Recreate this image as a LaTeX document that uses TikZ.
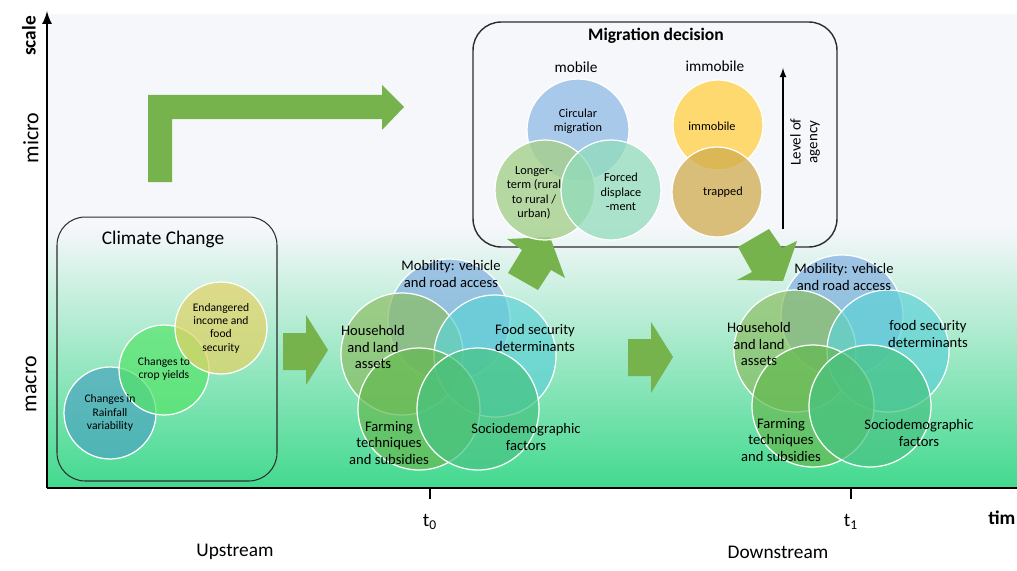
\documentclass[tikz,border=0pt]{standalone}
\usepackage{fontspec}
\setmainfont{Carlito}
\usepackage{tikz}

\definecolor{bglight}{RGB}{246,247,251}
\definecolor{bgmid}{RGB}{158,231,195}
\definecolor{bggreen}{RGB}{66,217,142}
\definecolor{arrowgreen}{RGB}{118,179,76}
\definecolor{boxline}{RGB}{45,45,45}
\definecolor{rainblue}{RGB}{75,165,190}
\definecolor{cropgreen}{RGB}{85,228,105}
\definecolor{incomeyellow}{RGB}{228,210,100}
\definecolor{mobblue}{RGB}{130,175,225}
\definecolor{assetgreen}{RGB}{140,190,100}
\definecolor{foodteal}{RGB}{95,210,215}
\definecolor{farmgreen}{RGB}{100,185,80}
\definecolor{sociogreen}{RGB}{70,195,130}
\definecolor{circblue}{RGB}{160,196,232}
\definecolor{longgreen}{RGB}{165,207,140}
\definecolor{forcedteal}{RGB}{145,220,188}
\definecolor{immyellow}{RGB}{255,216,105}
\definecolor{trapgold}{RGB}{208,172,78}

\begin{document}
\begin{tikzpicture}[x=0.02cm, y=-0.02cm,
    bubble/.style={circle, draw=white, line width=0.7pt, fill opacity=0.7, inner sep=0pt, minimum size=#1},
    bigtext/.style={font=\fontsize{8.3}{9.6}\selectfont, align=center, inner sep=0pt},
    smalltext/.style={font=\fontsize{6.6}{7.6}\selectfont, align=center, inner sep=0pt},
    axislabel/.style={font=\fontsize{11}{13}\selectfont, inner sep=0pt},
    frame/.style={draw=boxline, line width=0.6pt, rounded corners=16pt},
    blockarrow/.style={fill=arrowgreen}]

    \useasboundingbox (0,0) rectangle (1017,571);

    % Background
    \fill[bglight] (47,14) rectangle (1017,488);
    \shade[top color=bglight, middle color=bgmid, bottom color=bggreen] (47,226) rectangle (1017,488);

    % Axes
    \coordinate (origin) at (47,488);
    \coordinate (scaletop) at (47,11);
    \coordinate (timeend) at (1017,488);
    \draw[line width=1.5pt, -latex] (origin) -- (scaletop);
    \draw[line width=1.5pt] (origin) -- (timeend);
    \draw[line width=1.5pt] (430,488) -- (430,499);
    \draw[line width=1.5pt] (851,488) -- (851,499);

    \node[rotate=90, font=\bfseries\fontsize{11}{13}\selectfont] (scale) at (29,36) {scale};
    \node[rotate=90, font=\fontsize{12.5}{14}\selectfont] (micro) at (31,138) {micro};
    \node[rotate=90, font=\fontsize{12.5}{14}\selectfont] (macro) at (31,384) {macro};
    \node[axislabel] (t0) at (430,522) {t\textsubscript{0}};
    \node[axislabel] (t1) at (851,522) {t\textsubscript{1}};
    \node[axislabel, font=\bfseries\fontsize{11}{13}\selectfont, anchor=west] (time) at (988,518) {tim};
    \node[axislabel] (upstream) at (235,552) {Upstream};
    \node[axislabel] (downstream) at (778,552) {Downstream};

    % Climate Change
    \node[frame, minimum width=4.4cm, minimum height=5.28cm] (Climate) at (167,349) {};
    \node[font=\fontsize{11}{12}\selectfont] (Climate title) at (163,239) {Climate Change};
    \node[bubble=1.84cm, fill=rainblue] (Rainfall) at (110,413) {};
    \node[bubble=1.80cm, fill=cropgreen] (Crop) at (164,370) {};
    \node[bubble=1.84cm, fill=incomeyellow] (Income) at (221,328) {};
    \node[smalltext] (Rainfall text) at (110,413) {Changes in\\Rainfall\\variability};
    \node[smalltext] (Crop text) at (164,369) {Changes to\\crop yields};
    \node[smalltext] (Income text) at (221,328) {Endangered\\income and\\food\\security};

    % Determinants at t0
    \node[bubble=2.44cm, fill=mobblue] (Mobility0) at (449,320) {};
    \node[bubble=2.44cm, fill=assetgreen] (Household0) at (402,354) {};
    \node[bubble=2.44cm, fill=foodteal] (Food0) at (495,356) {};
    \node[bubble=2.44cm, fill=farmgreen] (Farming0) at (419,409) {};
    \node[bubble=2.44cm, fill=sociogreen] (Socio0) at (478,409) {};
    \node[bigtext] (Mobility0 text) at (451,274) {Mobility: vehicle\\and road access};
    \node[bigtext] (Household0 text) at (373,347) {Household\\and land\\assets};
    \node[bigtext] (Food0 text) at (535,338) {Food security\\determinants};
    \node[bigtext] (Farming0 text) at (389,443) {Farming\\techniques\\and subsidies};
    \node[bigtext] (Socio0 text) at (526,437) {Sociodemographic\\factors};

    % Determinants at t1
    \node[bubble=2.44cm, fill=mobblue] (Mobility1) at (842,316) {};
    \node[bubble=2.44cm, fill=assetgreen] (Household1) at (795,351) {};
    \node[bubble=2.44cm, fill=foodteal] (Food1) at (888,351) {};
    \node[bubble=2.44cm, fill=farmgreen] (Farming1) at (813,406) {};
    \node[bubble=2.44cm, fill=sociogreen] (Socio1) at (870,406) {};
    \node[bigtext] (Mobility1 text) at (844,277) {Mobility: vehicle\\and road access};
    \node[bigtext] (Household1 text) at (759,344) {Household\\and land\\assets};
    \node[bigtext] (Food1 text) at (928,334) {food security\\determinants};
    \node[bigtext] (Farming1 text) at (781,440) {Farming\\techniques\\and subsidies};
    \node[bigtext] (Socio1 text) at (919,433) {Sociodemographic\\factors};

    % Migration decision
    \node[frame, line width=0.8pt, minimum width=7.28cm, minimum height=4.5cm] (Migration) at (655,134.5) {};
    \node[font=\bfseries\fontsize{10}{12}\selectfont] (Migration title) at (656,36) {Migration decision};
    \node[font=\fontsize{8.7}{10}\selectfont] (mobile) at (576,67) {mobile};
    \node[font=\fontsize{8.7}{10}\selectfont] (immobile label) at (715,66) {immobile};

    % Green arrows
    \fill[blockarrow] (148,182) -- (148,95) -- (382,95) -- (382,85) -- (404,107) -- (382,130) -- (382,119) -- (172,119) -- (172,182) -- cycle;
    \fill[blockarrow] (283,333) -- (306,333) -- (306,315) -- (328,350) -- (306,385) -- (306,370) -- (283,370) -- cycle;
    \fill[blockarrow] (628,339) -- (651,339) -- (651,322) -- (673,357) -- (651,393) -- (651,376) -- (628,376) -- cycle;
    \fill[blockarrow] (538,290) -- (508,273) -- (522,250) -- (507,239) -- (550,237) -- (565,278) -- (551,270) -- cycle;
    \fill[blockarrow] (738,247) -- (769,229) -- (782,248) -- (797,241) -- (783,281) -- (737,280) -- (752,272) -- cycle;

    % Mobile / immobile outcomes
    \node[bubble=2.04cm, fill=circblue, fill opacity=0.9] (Circular) at (578,130) {};
    \node[bubble=2.0cm, fill=longgreen, fill opacity=0.8] (Longer) at (545,190) {};
    \node[bubble=2.0cm, fill=forcedteal, fill opacity=0.75] (Forced) at (611,190) {};
    \node[bubble=1.8cm, fill=immyellow, fill opacity=0.95] (Immobile) at (718,125) {};
    \node[bubble=1.8cm, fill=trapgold, fill opacity=0.75] (Trapped) at (717,192) {};
    \node[smalltext, font=\fontsize{7}{8.2}\selectfont] (Circular text) at (578,121) {Circular\\migration};
    \node[smalltext, font=\fontsize{7}{8.2}\selectfont] (Longer text) at (534,193) {Longer-\\term (rural\\to rural /\\urban)};
    \node[smalltext, font=\fontsize{7}{8.2}\selectfont] (Forced text) at (621,192) {Forced\\displace\\-ment};
    \node[smalltext, font=\fontsize{7}{8.2}\selectfont] (Immobile text) at (712,126) {immobile};
    \node[smalltext, font=\fontsize{7}{8.2}\selectfont] (Trapped text) at (723,192) {trapped};

    % Level of agency
    \coordinate (agency low) at (783,229);
    \coordinate (agency high) at (783,68);
    \draw[line width=0.8pt, -latex] (agency low) -- (agency high);
    \node[rotate=90, align=center, font=\fontsize{8.5}{9.5}\selectfont] (Agency) at (805,142) {Level of\\agency};

\end{tikzpicture}
\end{document}
